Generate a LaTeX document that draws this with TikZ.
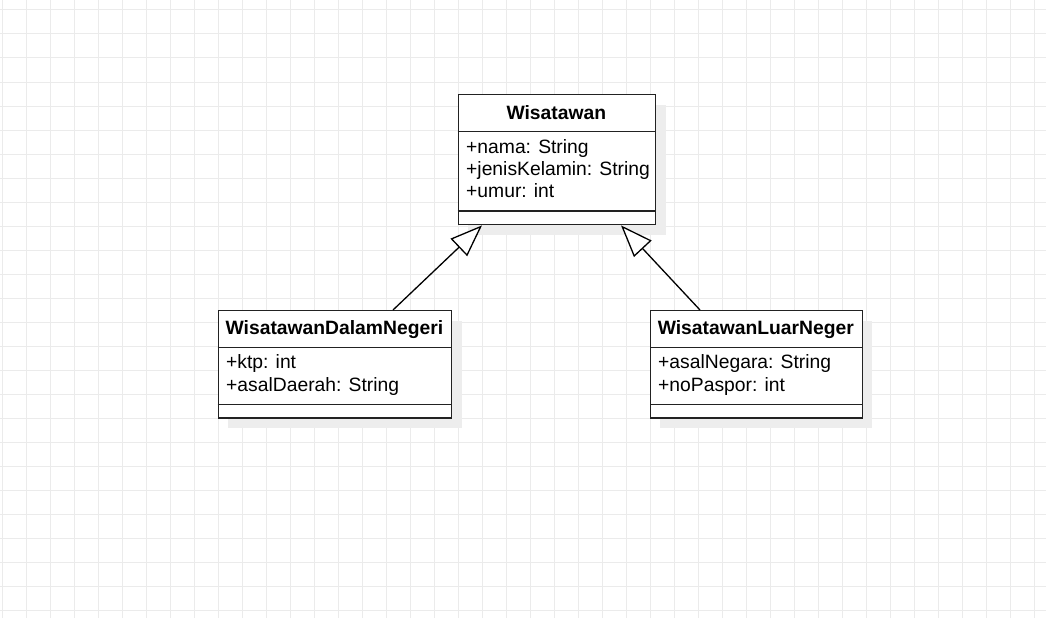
\documentclass[tikz,border=0pt]{standalone}
\usepackage{fontspec}
\setmainfont{Liberation Sans}
\usetikzlibrary{arrows.meta}
\definecolor{gridc}{HTML}{EBEBEB}
\definecolor{shadowc}{HTML}{EDEDED}
\definecolor{linec}{HTML}{222222}
\tikzset{
  gridline/.style={draw=gridc, line width=1pt},
  classbox/.style={draw=linec, line width=1.4pt, fill=white, rectangle, inner sep=0pt, anchor=north west},
  shadowbox/.style={fill=shadowc, draw=none},
  divider/.style={draw=linec, line width=1.4pt},
  title/.style={font=\fontsize{19.3}{22}\selectfont\bfseries, anchor=base, inner sep=0pt},
  attr/.style={font=\fontsize{19.3}{22}\selectfont, anchor=base west, inner sep=0pt},
  inherit/.style={draw=black, line width=1.3pt, -{Triangle[open, length=32pt, width=24pt, fill=white]}}
}
\begin{document}
\begin{tikzpicture}[x=1pt, y=-1pt]
\useasboundingbox (0,0) rectangle (1046,618);
\fill[white] (0,0) rectangle (1046,618);
\foreach \k in {0,...,43} { \draw[gridline] ({2+24*\k},0) -- ({2+24*\k},618); }
\foreach \k in {0,...,25} { \draw[gridline] (0,{10+24*\k}) -- (1046,{10+24*\k}); }

% shadows
\fill[shadowbox] (468,105) rectangle (666,235);
\fill[shadowbox] (228,321) rectangle (462,428);
\fill[shadowbox] (660,321) rectangle (872,428);

% Wisatawan
\node[classbox, minimum width=197.3pt, minimum height=130pt] (wis) at (457.7,94) {};
\draw[divider] (457.7,131.7) -- (655,131.7);
\draw[divider] (457.7,211) -- (655,211);
\node[title] (wist) at (556.3,119) {Wisatawan};
\node[attr] (wisa1) at (466,153.3) {+nama: String};
\node[attr] (wisa2) at (466,175.7) {+jenisKelamin: String};
\node[attr] (wisa3) at (466,197.9) {+umur: int};

% WisatawanDalamNegeri
\node[classbox, minimum width=233.3pt, minimum height=107.3pt] (dal) at (217.7,310) {};
\draw[divider] (217.7,347.3) -- (451,347.3);
\draw[divider] (217.7,404.3) -- (451,404.3);
\node[title] (dalt) at (334.4,334.3) {WisatawanDalamNegeri};
\node[attr] (dala1) at (226,368.5) {+ktp: int};
\node[attr] (dala2) at (226,391.2) {+asalDaerah: String};

% WisatawanLuarNeger
\node[classbox, minimum width=211.7pt, minimum height=107.3pt] (lua) at (650,310) {};
\draw[divider] (650,347.3) -- (861.7,347.3);
\draw[divider] (650,404.3) -- (861.7,404.3);
\node[title] (luat) at (755.8,334.3) {WisatawanLuarNeger};
\node[attr] (luaa1) at (658,368.5) {+asalNegara: String};
\node[attr] (luaa2) at (658,391.2) {+noPaspor: int};

% inheritance connectors
\coordinate (dalstart) at ([xshift=175.3pt]dal.north west);
\coordinate (wistipl) at ([xshift=24.3pt]wis.south west);
\coordinate (luastart) at ([xshift=50pt]lua.north west);
\coordinate (wistipr) at ([xshift=163.3pt]wis.south west);
\draw[inherit] (dalstart) -- (wistipl);
\draw[inherit] (luastart) -- (wistipr);
\end{tikzpicture}
\end{document}
